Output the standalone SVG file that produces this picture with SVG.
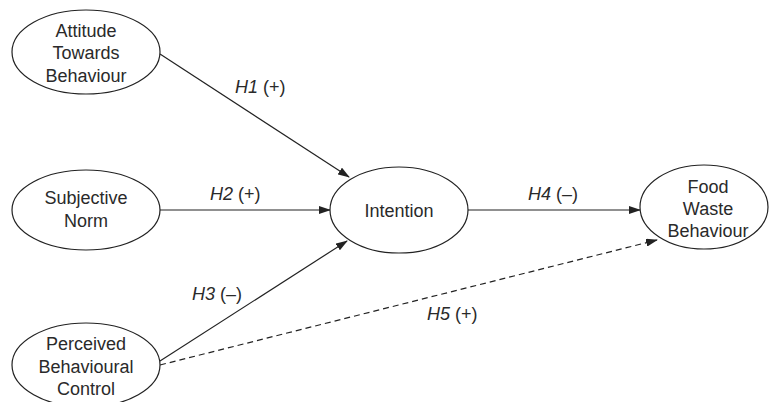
<svg xmlns="http://www.w3.org/2000/svg" width="770" height="402" viewBox="0 0 770 402">
<style>
.n{fill:#fff;stroke:#222;stroke-width:1.2}
.t{font-family:"Liberation Sans",Arial,sans-serif;font-size:18px;fill:#2a2a2a;text-anchor:middle}
.l{font-family:"Liberation Sans",Arial,sans-serif;font-size:18px;fill:#2a2a2a}
.c{stroke:#222;stroke-width:1.2;fill:none}
.d{stroke-dasharray:6,4}
</style>
<defs>
<marker id="a" markerWidth="12" markerHeight="8" refX="11" refY="4" orient="auto" markerUnits="userSpaceOnUse">
<path d="M0,0 L12,4 L0,8 Z" fill="#222"/>
</marker>
</defs>
<g id="connectors">
<line class="c" x1="160" y1="54" x2="349" y2="177" marker-end="url(#a)"/>
<line class="c" x1="160" y1="210" x2="330" y2="210" marker-end="url(#a)"/>
<line class="c" x1="160" y1="361" x2="347" y2="241" marker-end="url(#a)"/>
<line class="c" x1="468" y1="210" x2="640" y2="210" marker-end="url(#a)"/>
<line class="c d" x1="160" y1="365" x2="657" y2="240" marker-end="url(#a)"/>
</g>
<g id="labels">
<text class="l" x="235" y="93"><tspan font-style="italic">H1</tspan> (+)</text>
<text class="l" x="210" y="200"><tspan font-style="italic">H2</tspan> (+)</text>
<text class="l" x="192" y="300"><tspan font-style="italic">H3</tspan> (–)</text>
<text class="l" x="528" y="200"><tspan font-style="italic">H4</tspan> (–)</text>
<text class="l" x="427" y="320"><tspan font-style="italic">H5</tspan> (+)</text>
</g>
<g id="attitude">
<ellipse class="n" cx="86" cy="52" rx="74" ry="42"/>
<text class="t" x="86" y="37">Attitude</text>
<text class="t" x="86" y="59">Towards</text>
<text class="t" x="86" y="82">Behaviour</text>
</g>
<g id="subjective">
<ellipse class="n" cx="86" cy="210" rx="74" ry="40"/>
<text class="t" x="86" y="204">Subjective</text>
<text class="t" x="86" y="227">Norm</text>
</g>
<g id="pbc">
<ellipse class="n" cx="86" cy="365" rx="74" ry="42"/>
<text class="t" x="86" y="350">Perceived</text>
<text class="t" x="86" y="373">Behavioural</text>
<text class="t" x="86" y="395">Control</text>
</g>
<g id="intention">
<ellipse class="n" cx="399" cy="210" rx="69" ry="43"/>
<text class="t" x="399" y="217">Intention</text>
</g>
<g id="foodwaste">
<ellipse class="n" cx="704" cy="207" rx="64" ry="42"/>
<text class="t" x="708" y="193">Food</text>
<text class="t" x="708" y="215">Waste</text>
<text class="t" x="708" y="237">Behaviour</text>
</g>
</svg>
